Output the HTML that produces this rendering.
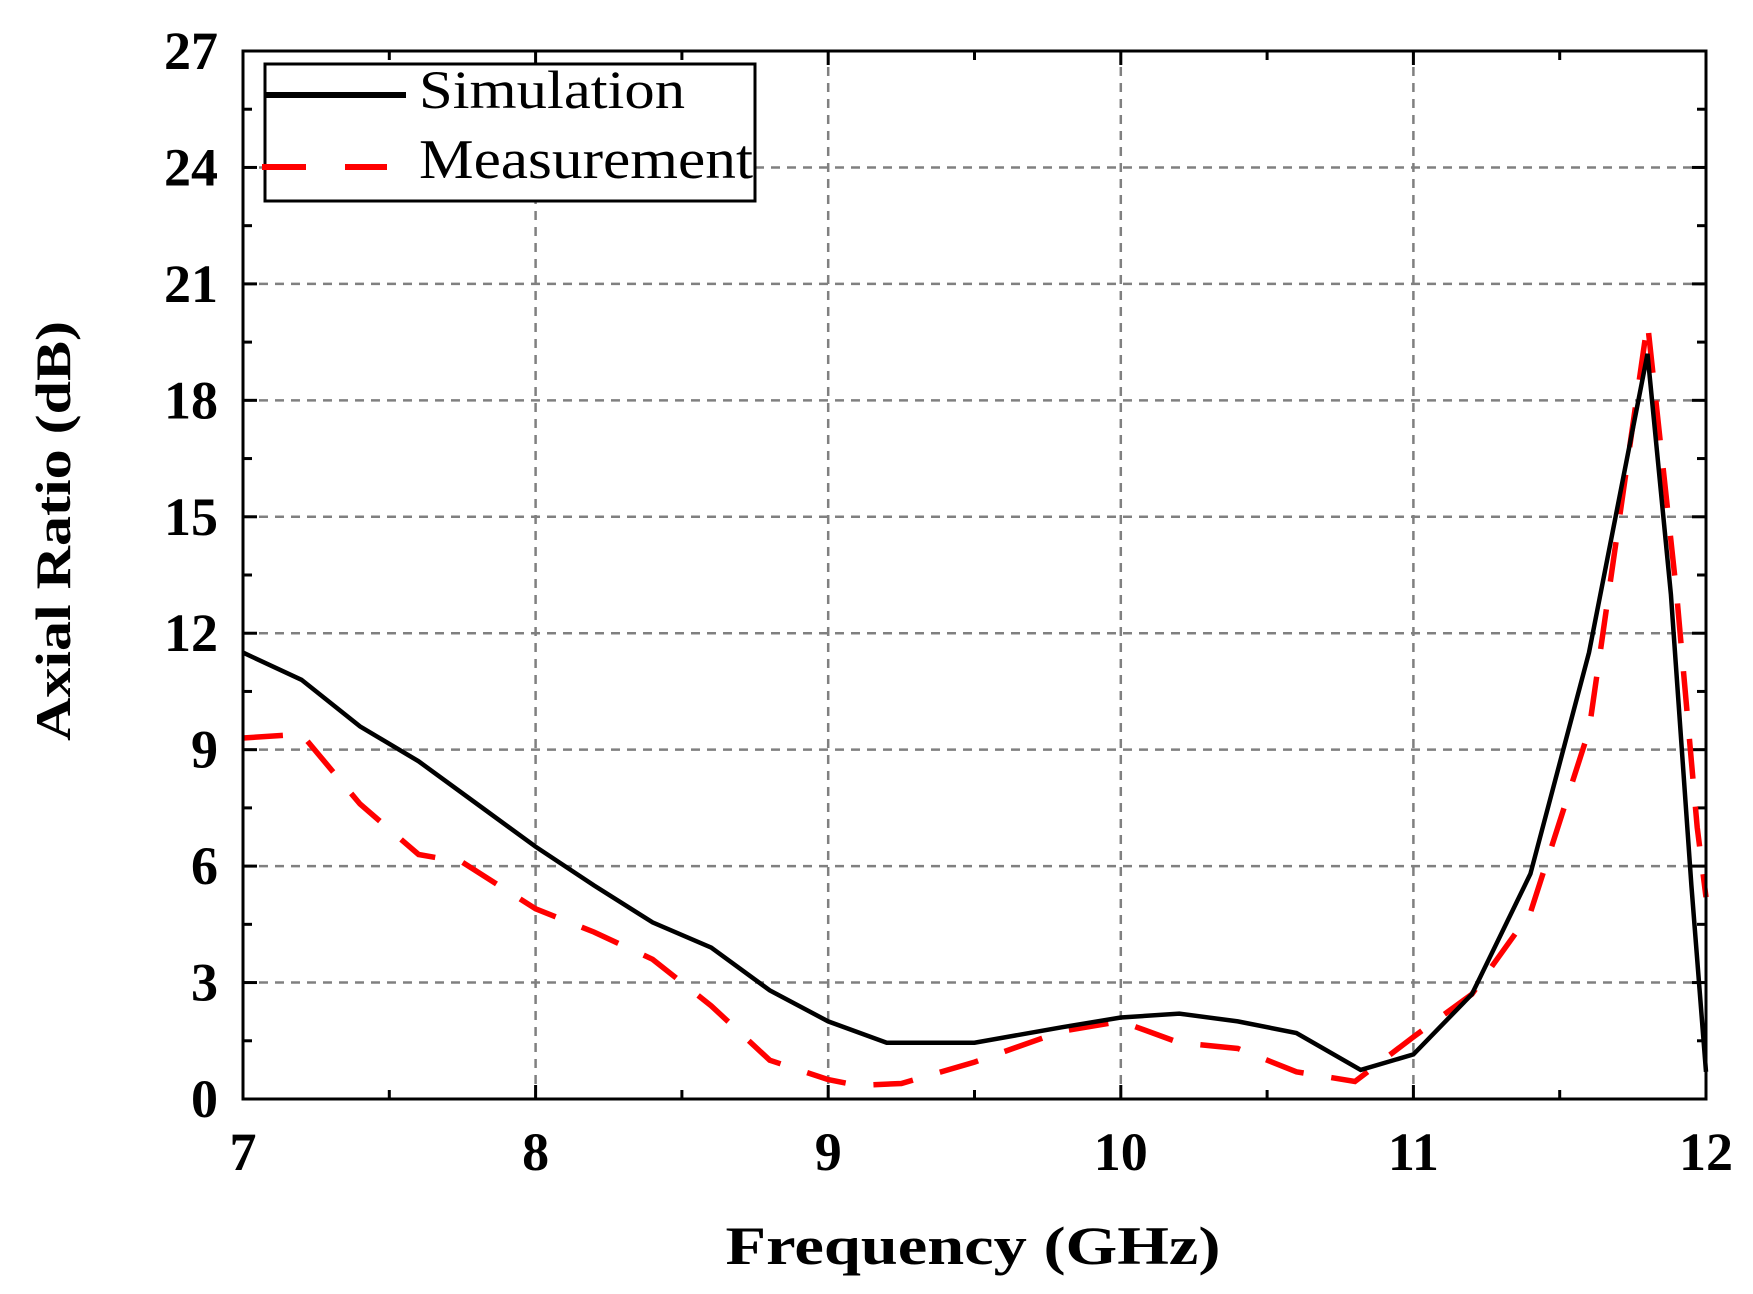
<!DOCTYPE html>
<html><head><meta charset="utf-8"><style>
html,body{margin:0;padding:0;background:#fff}
svg{display:block}
text{font-family:"Liberation Serif",serif}
</style></head><body>
<svg id="s" width="1753" height="1294" viewBox="0 0 1753 1294" xmlns="http://www.w3.org/2000/svg">
<g id="grid" stroke="#808080" stroke-width="2.5" stroke-dasharray="9,7" fill="none"></g>
<g id="ticks" stroke="#000" stroke-width="3"></g>
<polyline id="meas" fill="none" stroke="#ff0000" stroke-width="5.5" stroke-dasharray="40,28"/>
<polyline id="sim" fill="none" stroke="#000" stroke-width="4.5"/>
<rect x="243" y="51" width="1463" height="1048" fill="none" stroke="#000" stroke-width="3"/>
<g id="labels" font-weight="bold" font-size="54"></g>
<rect x="265" y="64" width="490" height="137" fill="#fff" stroke="#000" stroke-width="3"/>
<line x1="265" y1="95" x2="406" y2="95" stroke="#000" stroke-width="6"/>
<line x1="262" y1="167" x2="306" y2="167" stroke="#f00" stroke-width="6"/>
<line x1="345" y1="167" x2="387" y2="167" stroke="#f00" stroke-width="6"/>
<text x="419" y="108" font-size="54" textLength="266" lengthAdjust="spacingAndGlyphs">Simulation</text>
<text x="419" y="178" font-size="56" textLength="334" lengthAdjust="spacingAndGlyphs">Measurement</text>
<text x="973" y="1264" font-size="54" font-weight="bold" text-anchor="middle" textLength="495" lengthAdjust="spacingAndGlyphs">Frequency (GHz)</text>
<text transform="translate(70,531) rotate(-90)" font-size="50" font-weight="bold" text-anchor="middle" textLength="420" lengthAdjust="spacingAndGlyphs">Axial Ratio (dB)</text>
</svg>
<script>
var L=243,R=1706,T=51,B=1099;
function X(f){return L+(f-7)*(R-L)/5}
function Y(v){return B-v*(B-T)/27}
var ns="http://www.w3.org/2000/svg";
function el(p,t,a,txt){var e=document.createElementNS(ns,t);for(var k in a)e.setAttribute(k,a[k]);if(txt!=null)e.textContent=txt;document.getElementById(p).appendChild(e);}
for(var f=8;f<12;f++){el("grid","line",{x1:X(f),y1:T,x2:X(f),y2:B});}
for(var v=3;v<27;v+=3){el("grid","line",{x1:L,y1:Y(v),x2:R,y2:Y(v)});}
for(var f=7;f<=12;f+=0.5){var big=(f%1==0);var len=big?14:9;
el("ticks","line",{x1:X(f),y1:B,x2:X(f),y2:B-len});el("ticks","line",{x1:X(f),y1:T,x2:X(f),y2:T+len});}
for(var v=0;v<=27;v+=1.5){var big=(v%3==0);var len=big?14:9;
el("ticks","line",{x1:L,y1:Y(v),x2:L+len,y2:Y(v)});el("ticks","line",{x1:R,y1:Y(v),x2:R-len,y2:Y(v)});}
for(var f=7;f<=12;f++){el("labels","text",{x:X(f),y:1170,"text-anchor":"middle"},String(f));}
for(var v=0;v<=27;v+=3){el("labels","text",{x:218,y:Y(v)+18,"text-anchor":"end"},String(v));}
var sim=[[7,11.5],[7.2,10.8],[7.4,9.6],[7.6,8.7],[7.8,7.6],[8,6.5],[8.2,5.5],[8.4,4.55],[8.6,3.9],[8.8,2.8],[9,2.0],[9.2,1.45],[9.5,1.45],[9.8,1.85],[10,2.1],[10.2,2.2],[10.4,2.0],[10.6,1.7],[10.82,0.75],[11,1.15],[11.2,2.7],[11.4,5.8],[11.6,11.5],[11.8,19.2],[11.88,13],[11.95,5.5],[12,0.7]];
var meas=[[7,9.3],[7.2,9.4],[7.4,7.6],[7.6,6.3],[7.75,6.1],[8,4.9],[8.2,4.3],[8.4,3.6],[8.6,2.4],[8.8,1.0],[9,0.5],[9.1,0.35],[9.25,0.4],[9.5,0.95],[9.8,1.75],[10,2.0],[10.2,1.45],[10.4,1.3],[10.6,0.7],[10.8,0.45],[11,1.6],[11.2,2.7],[11.4,4.8],[11.6,9.5],[11.8,20],[11.9,13],[11.97,7],[12,5.2]];
function pts(a){return a.map(function(p){return X(p[0]).toFixed(1)+","+Y(p[1]).toFixed(1)}).join(" ")}
document.getElementById("sim").setAttribute("points",pts(sim));
document.getElementById("meas").setAttribute("points",pts(meas));
</script>
</body></html>
